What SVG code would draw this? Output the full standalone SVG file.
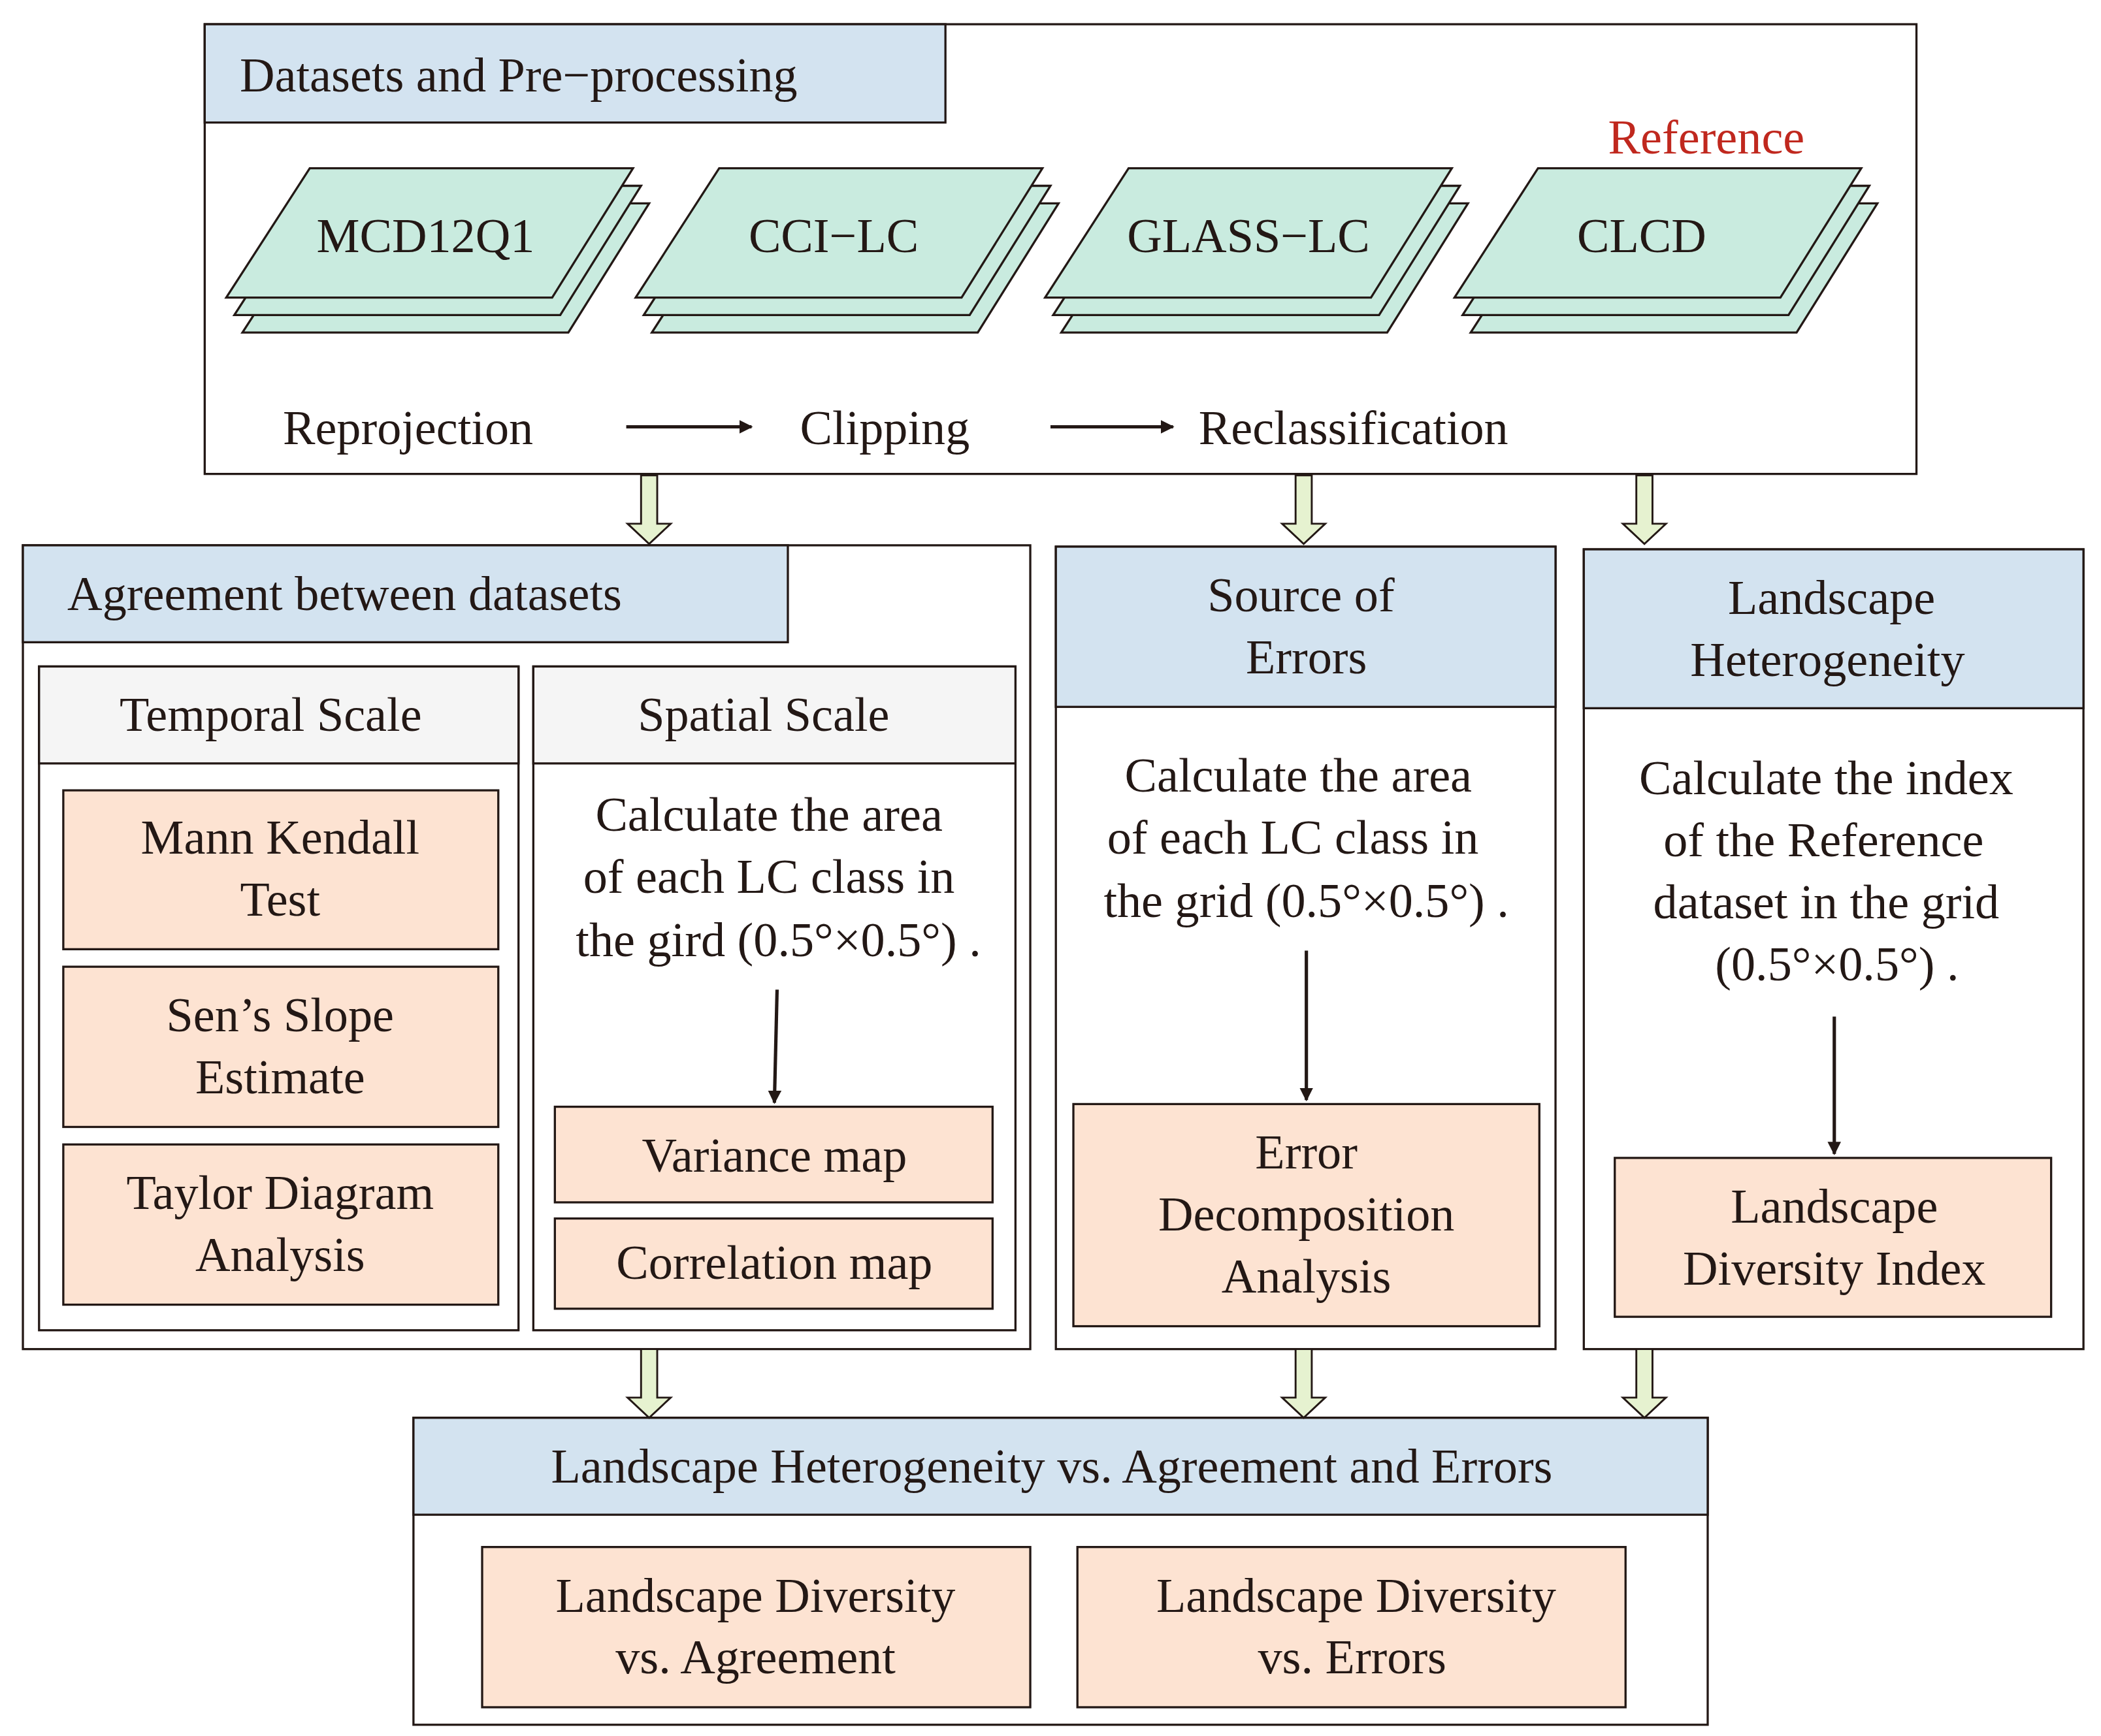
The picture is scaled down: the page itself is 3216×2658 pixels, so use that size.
<svg xmlns="http://www.w3.org/2000/svg" width="3216" height="2658" viewBox="0 0 3216 2658">
<defs>
<style>
text{font-family:"Liberation Serif","Times New Roman",serif;font-size:36px;fill:#231815}
.c{text-anchor:middle}
.box{fill:#fff;stroke:#231815;stroke-width:1.6}
.hdr{fill:#d3e3f0;stroke:#231815;stroke-width:1.6}
.sub{fill:#f5f5f5;stroke:#231815;stroke-width:1.6}
.or{fill:#fde3d2;stroke:#231815;stroke-width:1.6}
.ly{fill:#c9ebdf;stroke:#231815;stroke-width:1.6}
.ln{stroke:#231815;stroke-width:2.5;fill:none}
.da{fill:#e6f2d0;stroke:#231815;stroke-width:1.4}
</style>
<marker id="ah" viewBox="0 0 10 10" refX="9" refY="5" markerWidth="4" markerHeight="4" orient="auto"><path d="M0,0 L10,5 L0,10 z" fill="#231815"/></marker>
<path id="dn" d="M-6,0 L6,0 L6,36 L16,36 L0,51 L-16,36 L-6,36 z"/>
</defs>
<rect width="3216" height="2658" fill="#fff"/>
<g transform="scale(2.0615)">
<g id="datasets">
<rect class="box" x="152" y="18" width="1271" height="334"/>
<rect class="hdr" x="152" y="18" width="550" height="73"/>
<text x="178" y="68">Datasets and Pre−processing</text>
<g id="mcd"><g transform="translate(168,0)">
<path class="ly" d="M74,151 L314,151 L254,247 L12,247 z"/><path class="ly" d="M68,138 L308,138 L248,234 L6,234 z"/><path class="ly" d="M62,125 L302,125 L242,221 L0,221 z"/></g>
<text class="c" x="316" y="187">MCD12Q1</text></g>
<g id="cci"><g transform="translate(472,0)">
<path class="ly" d="M74,151 L314,151 L254,247 L12,247 z"/><path class="ly" d="M68,138 L308,138 L248,234 L6,234 z"/><path class="ly" d="M62,125 L302,125 L242,221 L0,221 z"/></g>
<text class="c" x="619" y="187">CCI−LC</text></g>
<g id="glass"><g transform="translate(776,0)">
<path class="ly" d="M74,151 L314,151 L254,247 L12,247 z"/><path class="ly" d="M68,138 L308,138 L248,234 L6,234 z"/><path class="ly" d="M62,125 L302,125 L242,221 L0,221 z"/></g>
<text class="c" x="927" y="187">GLASS−LC</text></g>
<g id="clcd"><g transform="translate(1080,0)">
<path class="ly" d="M74,151 L314,151 L254,247 L12,247 z"/><path class="ly" d="M68,138 L308,138 L248,234 L6,234 z"/><path class="ly" d="M62,125 L302,125 L242,221 L0,221 z"/></g>
<text class="c" x="1219" y="187">CLCD</text></g>
<text class="c" x="1267" y="114" style="fill:#c0281e">Reference</text>
<text x="210" y="330">Reprojection</text>
<text x="594" y="330">Clipping</text>
<text x="890" y="330">Reclassification</text>
</g>
<g id="agreement">
<rect class="box" x="17" y="405" width="748" height="597"/>
<rect class="hdr" x="17" y="405" width="568" height="72"/>
<text x="50" y="453">Agreement between datasets</text>
<rect class="box" x="29" y="495" width="356" height="493"/>
<rect class="sub" x="29" y="495" width="356" height="72"/>
<text class="c" x="201" y="543">Temporal Scale</text>
<rect class="or" x="47" y="587" width="323" height="118"/>
<text class="c" x="208" y="634">Mann Kendall</text><text class="c" x="208" y="680">Test</text>
<rect class="or" x="47" y="718" width="323" height="119"/>
<text class="c" x="208" y="766">Sen’s Slope</text><text class="c" x="208" y="812">Estimate</text>
<rect class="or" x="47" y="850" width="323" height="119"/>
<text class="c" x="208" y="898">Taylor Diagram</text><text class="c" x="208" y="944">Analysis</text>
<rect class="box" x="396" y="495" width="358" height="493"/>
<rect class="sub" x="396" y="495" width="358" height="72"/>
<text class="c" x="567" y="543">Spatial Scale</text>
<text class="c" x="571" y="617">Calculate the area</text>
<text class="c" x="571" y="663">of each LC class in</text>
<text class="c" x="578" y="710">the gird (0.5°×0.5°) .</text>
<rect class="or" x="412" y="822" width="325" height="71"/>
<text class="c" x="575" y="870">Variance map</text>
<rect class="or" x="412" y="905" width="325" height="67"/>
<text class="c" x="575" y="950">Correlation map</text>
</g>
<g id="source">
<rect class="box" x="784" y="406" width="371" height="596"/>
<rect class="hdr" x="784" y="406" width="371" height="119"/>
<text class="c" x="966" y="454">Source of</text><text class="c" x="970" y="500">Errors</text>
<text class="c" x="964" y="588">Calculate the area</text>
<text class="c" x="960" y="634">of each LC class in</text>
<text class="c" x="970" y="681">the grid (0.5°×0.5°) .</text>
<rect class="or" x="797" y="820" width="346" height="165"/>
<text class="c" x="970" y="868">Error</text><text class="c" x="970" y="914">Decomposition</text><text class="c" x="970" y="960">Analysis</text>
</g>
<g id="heterogeneity">
<rect class="box" x="1176" y="408" width="371" height="594"/>
<rect class="hdr" x="1176" y="408" width="371" height="118"/>
<text class="c" x="1360" y="456">Landscape</text><text class="c" x="1357" y="502">Heterogeneity</text>
<text class="c" x="1356" y="590">Calculate the index</text>
<text class="c" x="1354" y="636">of the Reference</text>
<text class="c" x="1356" y="682">dataset in the grid</text>
<text class="c" x="1364" y="728">(0.5°×0.5°) .</text>
<rect class="or" x="1199" y="860" width="324" height="118"/>
<text class="c" x="1362" y="908">Landscape</text><text class="c" x="1362" y="954">Diversity Index</text>
</g>
<g id="comparison">
<rect class="box" x="307" y="1053" width="961" height="228"/>
<rect class="hdr" x="307" y="1053" width="961" height="72"/>
<text class="c" x="781" y="1101">Landscape Heterogeneity  vs. Agreement and Errors</text>
<rect class="or" x="358" y="1149" width="407" height="119"/>
<text class="c" x="561" y="1197">Landscape Diversity</text><text class="c" x="561" y="1243">vs. Agreement</text>
<rect class="or" x="800" y="1149" width="407" height="119"/>
<text class="c" x="1007" y="1197">Landscape  Diversity</text><text class="c" x="1004" y="1243">vs. Errors</text>
</g>
<g id="connectors">
<path class="ln" d="M465,317 L558,317" marker-end="url(#ah)"/>
<path class="ln" d="M780,317 L871,317" marker-end="url(#ah)"/>
<path class="ln" d="M577,735 L575,819" marker-end="url(#ah)"/>
<path class="ln" d="M970,706 L970,817" marker-end="url(#ah)"/>
<path class="ln" d="M1362,755 L1362,857" marker-end="url(#ah)"/>
<use href="#dn" class="da" x="482" y="353"/>
<use href="#dn" class="da" x="968" y="353"/>
<use href="#dn" class="da" x="1221" y="353"/>
<use href="#dn" class="da" x="482" y="1002"/>
<use href="#dn" class="da" x="968" y="1002"/>
<use href="#dn" class="da" x="1221" y="1002"/>
</g>
</g>
</svg>
